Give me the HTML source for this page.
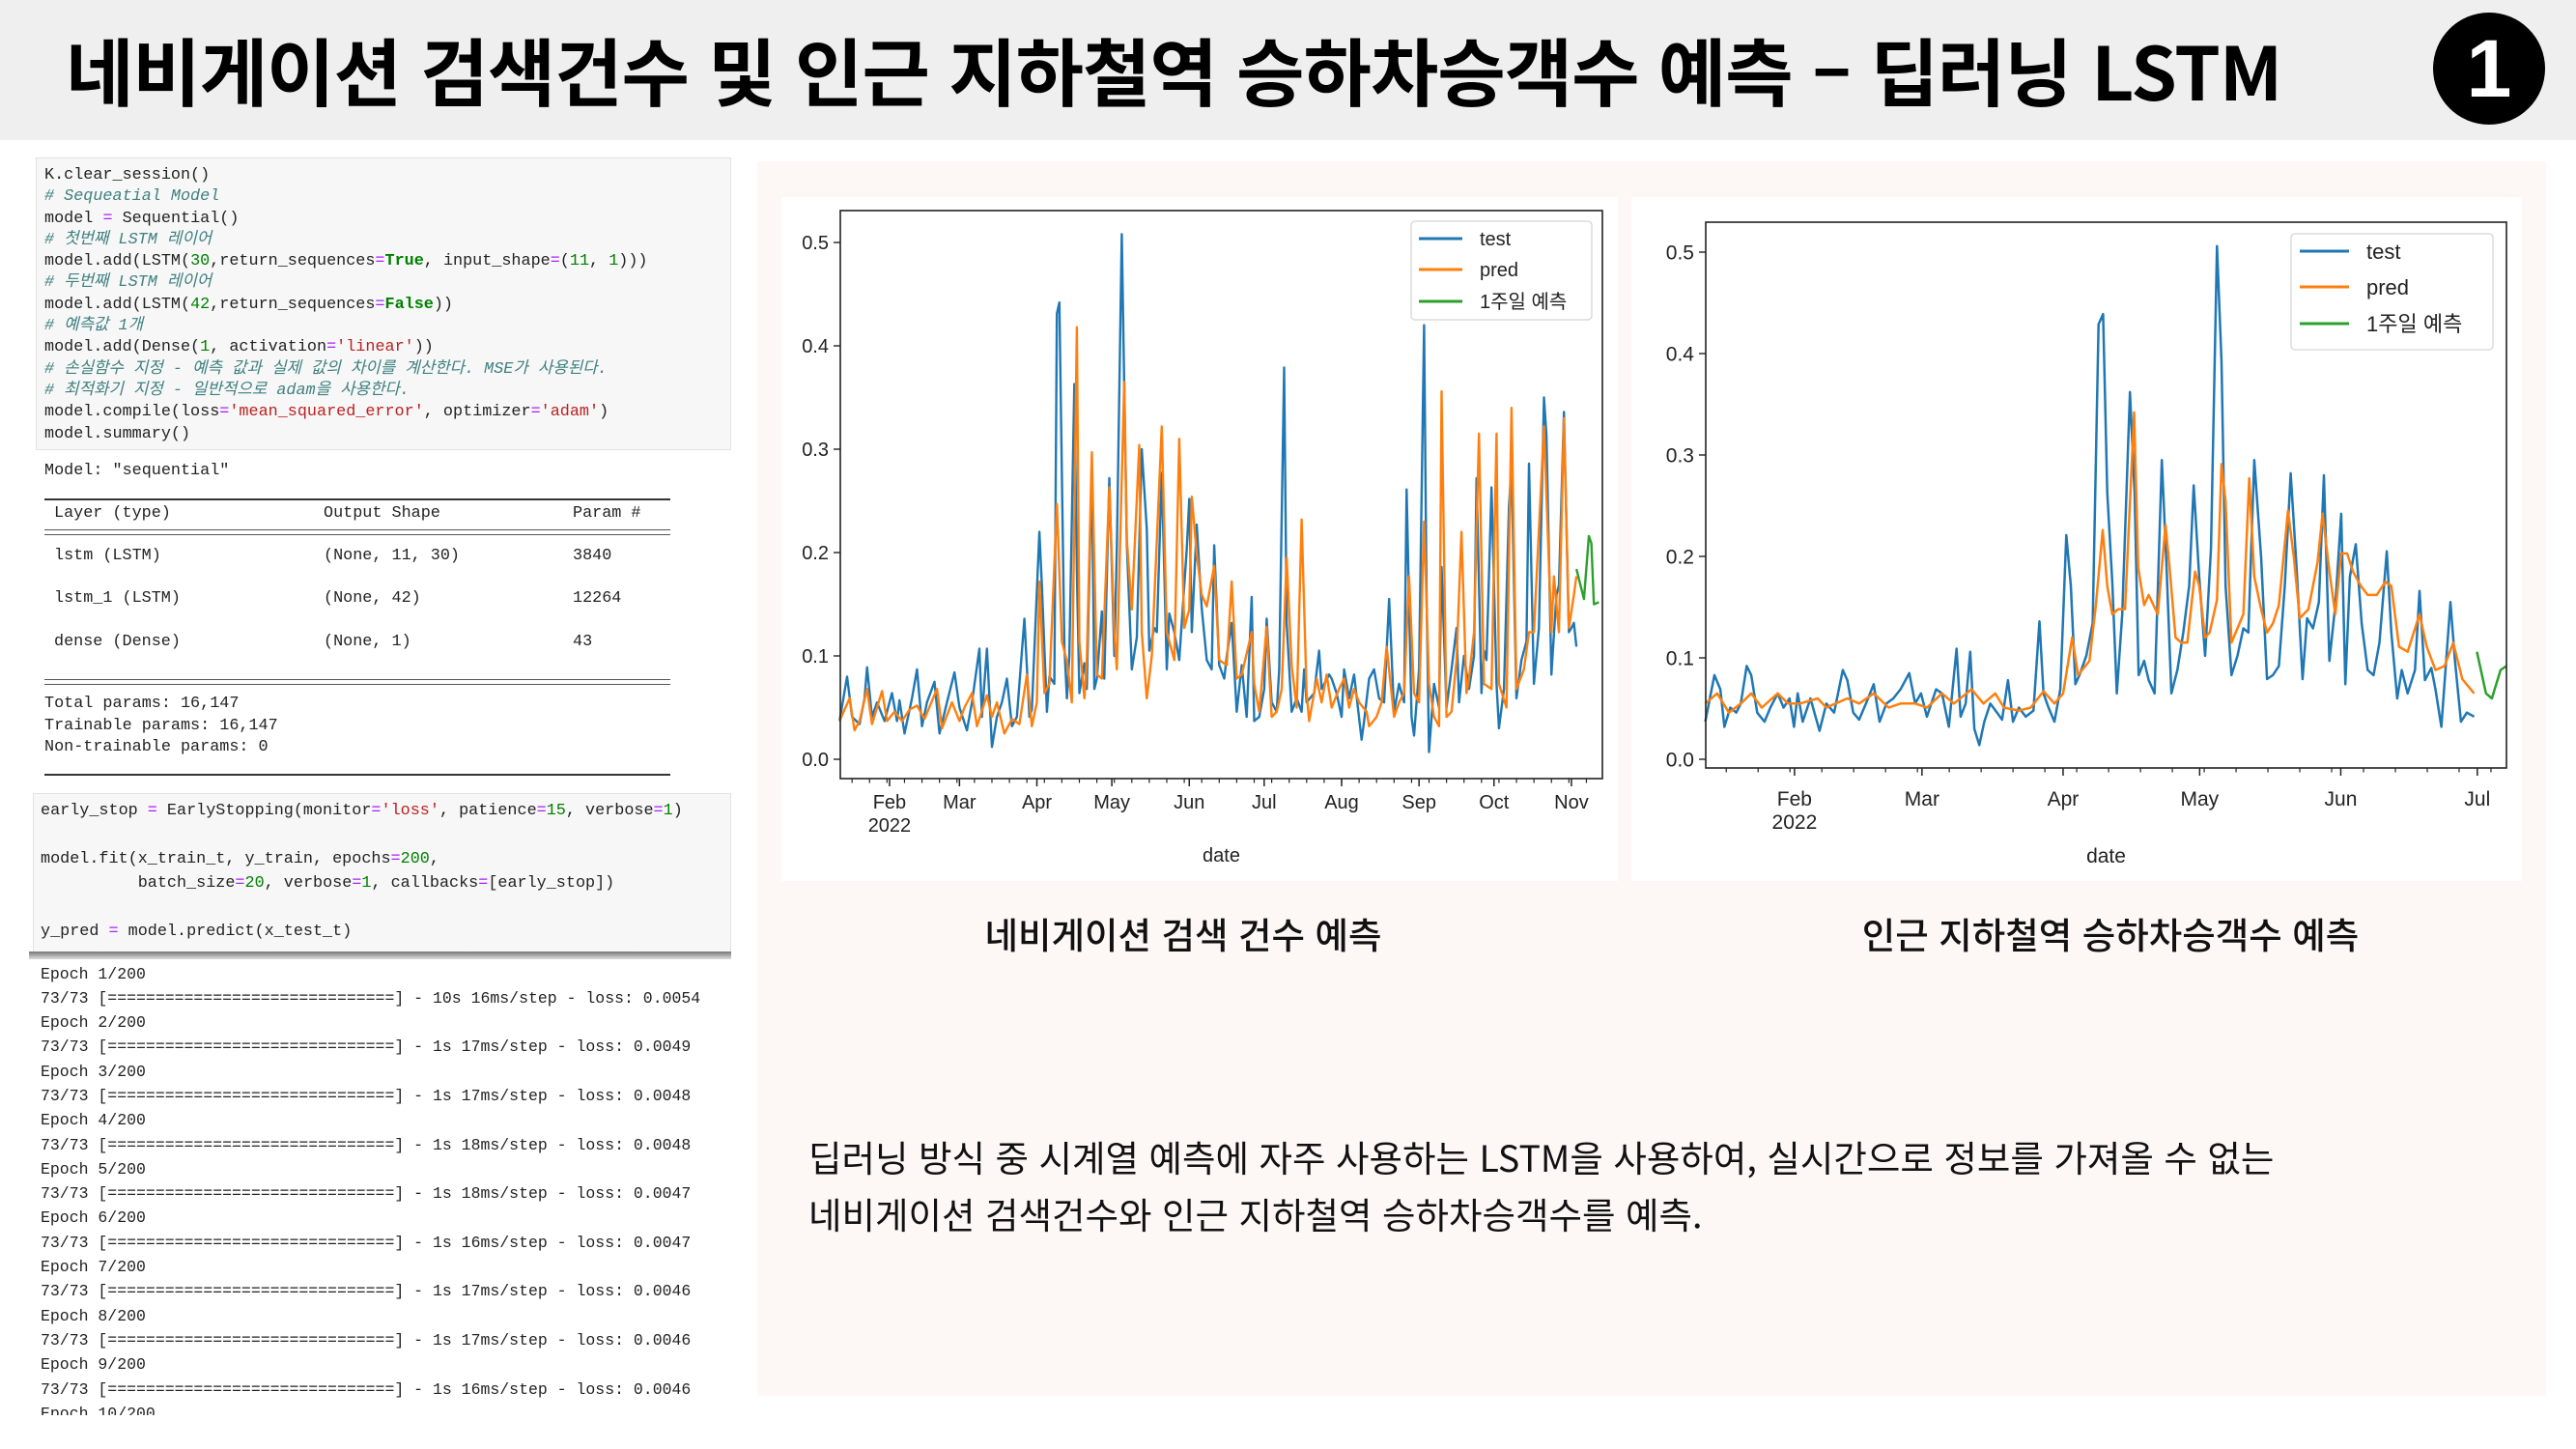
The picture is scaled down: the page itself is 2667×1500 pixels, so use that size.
<!DOCTYPE html>
<html lang="ko">
<head>
<meta charset="utf-8">
<style>
  html,body{margin:0;padding:0;}
  body{width:2667px;height:1500px;position:relative;overflow:hidden;background:#fff;font-family:"Liberation Sans","Noto Sans CJK KR",sans-serif;}
  .abs{position:absolute;}
  .mono{font-family:"Liberation Mono","Noto Sans CJK KR",monospace;color:#222;white-space:pre;}
  .c{color:#408080;font-style:italic;}
  .o{color:#aa22ff;}
  .n{color:#008000;}
  .k{color:#008000;font-weight:bold;}
  .s{color:#ba2121;}
</style>
</head>
<body>
<div class="abs" style="left:0;top:0;width:2667px;height:145px;background:#efefef;"></div>
<div class="abs" style="left:68px;top:20px;height:104px;line-height:104px;font-family:'Noto Sans CJK KR',sans-serif;font-weight:700;font-size:76.5px;color:#000;white-space:nowrap;letter-spacing:-1px;">네비게이션 검색건수 및 인근 지하철역 승하차승객수 예측 – 딥러닝 LSTM</div>
<div class="abs" style="left:2519px;top:13px;width:116px;height:116px;border-radius:50%;background:#000;color:#fff;font-family:'Liberation Sans',sans-serif;font-weight:700;font-size:84px;line-height:116px;text-align:center;">1</div>

<!-- Code cell 1 -->
<div class="abs" style="left:37px;top:163px;width:720px;height:303px;background:#f7f7f7;border:1px solid #e2e2e2;box-sizing:border-box;"></div>
<div class="abs mono" style="left:46px;top:171px;font-size:16.8px;line-height:22.3px;">K.clear_session()
<span class="c"># Sequeatial Model</span>
model <span class="o">=</span> Sequential()
<span class="c"># 첫번째 LSTM 레이어</span>
model.add(LSTM(<span class="n">30</span>,return_sequences<span class="o">=</span><span class="k">True</span>, input_shape<span class="o">=</span>(<span class="n">11</span>, <span class="n">1</span>)))
<span class="c"># 두번째 LSTM 레이어</span>
model.add(LSTM(<span class="n">42</span>,return_sequences<span class="o">=</span><span class="k">False</span>))
<span class="c"># 예측값 1개</span>
model.add(Dense(<span class="n">1</span>, activation<span class="o">=</span><span class="s">'linear'</span>))
<span class="c"># 손실함수 지정 - 예측 값과 실제 값의 차이를 계산한다. MSE가 사용된다.</span>
<span class="c"># 최적화기 지정 - 일반적으로 adam을 사용한다.</span>
model.compile(loss<span class="o">=</span><span class="s">'mean_squared_error'</span>, optimizer<span class="o">=</span><span class="s">'adam'</span>)
model.summary()</div>

<!-- Summary output -->
<div class="abs mono" style="left:46px;top:477px;font-size:16.8px;line-height:22px;">Model: "sequential"</div>
<div class="abs" style="left:46px;top:516px;width:648px;height:2px;background:#333;"></div>
<div class="abs mono" style="left:56px;top:521px;font-size:16.8px;line-height:22px;">Layer (type)</div>
<div class="abs mono" style="left:335px;top:521px;font-size:16.8px;line-height:22px;">Output Shape</div>
<div class="abs mono" style="left:593px;top:521px;font-size:16.8px;line-height:22px;">Param #</div>
<div class="abs" style="left:46px;top:548px;width:648px;height:6px;border-top:1.5px solid #555;border-bottom:1.5px solid #555;box-sizing:border-box;"></div>
<div class="abs mono" style="left:56px;top:565px;font-size:16.8px;line-height:22px;">lstm (LSTM)</div>
<div class="abs mono" style="left:335px;top:565px;font-size:16.8px;line-height:22px;">(None, 11, 30)</div>
<div class="abs mono" style="left:593px;top:565px;font-size:16.8px;line-height:22px;">3840</div>
<div class="abs mono" style="left:56px;top:609px;font-size:16.8px;line-height:22px;">lstm_1 (LSTM)</div>
<div class="abs mono" style="left:335px;top:609px;font-size:16.8px;line-height:22px;">(None, 42)</div>
<div class="abs mono" style="left:593px;top:609px;font-size:16.8px;line-height:22px;">12264</div>
<div class="abs mono" style="left:56px;top:654px;font-size:16.8px;line-height:22px;">dense (Dense)</div>
<div class="abs mono" style="left:335px;top:654px;font-size:16.8px;line-height:22px;">(None, 1)</div>
<div class="abs mono" style="left:593px;top:654px;font-size:16.8px;line-height:22px;">43</div>
<div class="abs" style="left:46px;top:703px;width:648px;height:6px;border-top:1.5px solid #555;border-bottom:1.5px solid #555;box-sizing:border-box;"></div>
<div class="abs mono" style="left:46px;top:718px;font-size:16.8px;line-height:22.5px;">Total params: 16,147
Trainable params: 16,147
Non-trainable params: 0</div>
<div class="abs" style="left:46px;top:801px;width:648px;height:2px;background:#333;"></div>

<!-- Code cell 2 -->
<div class="abs" style="left:34px;top:821px;width:723px;height:166px;background:#f7f7f7;border:1px solid #e2e2e2;box-sizing:border-box;"></div>
<div class="abs" style="left:30px;top:985px;width:727px;height:8px;background:linear-gradient(#777,#ddd);"></div>
<div class="abs mono" style="left:42px;top:827px;font-size:16.8px;line-height:25px;">early_stop <span class="o">=</span> EarlyStopping(monitor<span class="o">=</span><span class="s">'loss'</span>, patience<span class="o">=</span><span class="n">15</span>, verbose<span class="o">=</span><span class="n">1</span>)

model.fit(x_train_t, y_train, epochs<span class="o">=</span><span class="n">200</span>,
          batch_size<span class="o">=</span><span class="n">20</span>, verbose<span class="o">=</span><span class="n">1</span>, callbacks<span class="o">=</span>[early_stop])

y_pred <span class="o">=</span> model.predict(x_test_t)</div>

<div class="abs" style="left:0;top:994px;width:780px;height:471px;overflow:hidden;">
<div class="abs mono" style="left:42px;top:1.5px;font-size:16.5px;line-height:25.3px;">Epoch 1/200
73/73 [==============================] - 10s 16ms/step - loss: 0.0054
Epoch 2/200
73/73 [==============================] - 1s 17ms/step - loss: 0.0049
Epoch 3/200
73/73 [==============================] - 1s 17ms/step - loss: 0.0048
Epoch 4/200
73/73 [==============================] - 1s 18ms/step - loss: 0.0048
Epoch 5/200
73/73 [==============================] - 1s 18ms/step - loss: 0.0047
Epoch 6/200
73/73 [==============================] - 1s 16ms/step - loss: 0.0047
Epoch 7/200
73/73 [==============================] - 1s 17ms/step - loss: 0.0046
Epoch 8/200
73/73 [==============================] - 1s 17ms/step - loss: 0.0046
Epoch 9/200
73/73 [==============================] - 1s 16ms/step - loss: 0.0046
Epoch 10/200</div>
</div>

<!-- Right panel -->
<div class="abs" style="left:784px;top:167px;width:1852px;height:1278px;background:#fdf8f5;"></div>
<div class="abs" style="left:809px;top:204px;width:866px;height:708px;background:#fff;"></div>
<div class="abs" style="left:1689px;top:204px;width:922px;height:708px;background:#fff;"></div>
<svg id="charts" class="abs" style="left:0;top:0;" width="2667" height="1500" viewBox="0 0 2667 1500"></svg>

<div class="abs" style="left:975px;top:942px;width:500px;text-align:center;font-family:'Noto Sans CJK KR',sans-serif;font-weight:500;font-size:37.5px;line-height:48px;color:#111;white-space:nowrap;">네비게이션 검색 건수 예측</div>
<div class="abs" style="left:1885px;top:942px;width:600px;text-align:center;font-family:'Noto Sans CJK KR',sans-serif;font-weight:500;font-size:37.5px;line-height:48px;color:#111;white-space:nowrap;">인근 지하철역 승하차승객수 예측</div>
<div class="abs" style="left:837px;top:1167px;font-family:'Noto Sans CJK KR',sans-serif;font-size:37.5px;line-height:59px;color:#111;white-space:nowrap;">딥러닝 방식 중 시계열 예측에 자주 사용하는 LSTM을 사용하여, 실시간으로 정보를 가져올 수 없는<br>네비게이션 검색건수와 인근 지하철역 승하차승객수를 예측.</div>

<script>
// ---- Chart 1: navigation search counts (x = day offset from 2022-01-01) ----
const c1TestDays = [11,14,16,19,21,22,24,26,29,31,32,34,35,37,40,42,44,46,49,51,54,57,59,62,64,67,68,70,72,74,76,78,80,82,85,87,88,91,92,94,95,97,98,99,101,102,103,105,106,107,109,110,112,113,114,116,117,119,121,122,124,126,128,130,132,134,135,137,138,140,142,143,145,147,150,151,152,154,156,158,160,161,163,165,166,168,170,172,174,176,177,179,181,182,184,186,187,189,190,192,194,196,197,198,201,203,204,207,208,210,212,213,215,217,220,221,223,225,227,229,231,233,235,237,238,240,241,243,245,246,247,249,251,252,254,256,258,259,261,263,265,266,268,269,270,272,274,275,277,279,280,282,284,286,287,289,291,293,294,296,298,299,301,303,304,305,306];
const c1Test = [.037,.080,.041,.034,.059,.089,.041,.055,.037,.055,.064,.037,.057,.025,.059,.087,.032,.055,.075,.025,.055,.084,.050,.028,.055,.107,.041,.107,.012,.041,.055,.078,.032,.041,.136,.041,.048,.220,.168,.046,.080,.073,.431,.442,.109,.059,.100,.363,.182,.064,.093,.068,.286,.068,.078,.143,.078,.272,.100,.204,.508,.209,.087,.118,.300,.223,.105,.127,.123,.277,.087,.141,.123,.096,.204,.252,.123,.227,.146,.096,.087,.207,.091,.078,.100,.132,.046,.091,.041,.157,.037,.041,.068,.136,.055,.046,.087,.379,.132,.046,.059,.046,.087,.055,.064,.105,.068,.082,.078,.064,.041,.087,.059,.082,.019,.037,.078,.087,.059,.055,.155,.046,.073,.055,.261,.041,.023,.087,.420,.164,.007,.073,.050,.186,.050,.087,.127,.055,.100,.068,.100,.272,.064,.105,.096,.263,.073,.030,.068,.245,.282,.059,.096,.114,.286,.073,.127,.350,.313,.082,.159,.168,.336,.123,.127,.132,.109];
const c1PredDays = [11,15,17,19,22,24,28,30,33,36,39,42,45,50,52,56,59,61,64,66,70,72,74,77,80,83,86,88,90,91,93,95,98,100,102,104,106,107,109,110,112,114,116,119,121,122,125,126,128,131,132,134,136,140,142,145,147,149,151,152,154,156,158,161,163,166,168,170,172,176,177,179,182,184,186,188,190,192,194,196,198,199,202,204,206,208,211,213,215,217,219,222,223,226,228,230,233,235,237,239,241,243,245,247,249,251,252,254,256,258,260,262,263,265,267,269,272,274,275,278,280,282,285,287,289,293,296,297,299,301,303,305,306];
const c1Pred = [.037,.059,.028,.037,.068,.034,.066,.037,.046,.037,.048,.052,.039,.068,.030,.055,.037,.050,.064,.032,.062,.041,.055,.025,.039,.034,.082,.032,.055,.172,.064,.073,.247,.114,.095,.055,.418,.114,.059,.096,.297,.082,.078,.263,.123,.087,.365,.213,.145,.304,.123,.059,.100,.322,.123,.096,.310,.127,.145,.254,.199,.159,.148,.187,.096,.091,.172,.078,.082,.123,.073,.046,.128,.041,.046,.068,.195,.091,.050,.232,.064,.037,.078,.055,.082,.050,.068,.078,.050,.068,.055,.046,.032,.041,.055,.109,.041,.055,.064,.177,.064,.055,.230,.073,.041,.032,.356,.041,.046,.096,.220,.064,.078,.123,.315,.073,.068,.315,.073,.050,.340,.068,.087,.123,.123,.322,.123,.177,.123,.330,.127,.159,.177];
const c1FcDays = [306,309,311,312,313,315];
const c1Fc = [.184,.155,.216,.209,.150,.152];

// ---- Chart 2: subway boarding counts ----
const c2TestDays = [11.4,13.4,14.7,15.6,16.9,18.2,19.2,20.5,21.5,22.8,24.4,25.7,27.3,28.6,29.9,30.9,31.7,32.8,34.5,36.5,38.0,39.7,41.6,42.6,43.9,45.2,46.7,48.4,49.7,51.2,52.7,54.3,56.2,57.5,58.8,60.1,62.1,63.4,64.9,66.6,67.5,68.6,69.6,70.5,71.6,72.7,74.0,75.5,76.6,77.9,79.0,80.3,81.8,83.5,84.8,85.7,86.8,88.1,89.4,90.7,91.7,92.7,93.6,95.1,96.5,97.8,98.8,99.7,100.8,101.8,103.0,104.7,105.7,106.6,107.8,108.8,110.1,111.7,112.7,113.8,115.1,116.4,117.7,118.7,119.9,121.2,122.5,123.8,124.8,125.7,127.0,128.3,129.6,130.7,132.0,133.5,134.8,136.1,137.4,138.7,140.0,141.3,142.6,143.6,144.9,146.2,147.3,148.5,149.8,151.1,152.0,153.0,154.3,155.6,156.9,158.2,159.5,161.1,162.1,163.4,164.4,165.7,167.3,168.3,169.5,170.9,171.8,173.1,175.1,176.1,177.4,178.7,180.3];
const c2Test = [.037,.083,.069,.032,.051,.046,.055,.092,.083,.046,.037,.051,.065,.051,.060,.032,.065,.037,.060,.028,.055,.046,.088,.078,.046,.039,.055,.074,.037,.055,.060,.069,.085,.055,.065,.042,.069,.065,.032,.109,.042,.055,.106,.030,.014,.037,.055,.046,.039,.078,.037,.051,.042,.048,.136,.065,.051,.037,.069,.221,.171,.074,.083,.102,.134,.429,.439,.263,.175,.065,.143,.362,.263,.083,.097,.078,.065,.295,.194,.065,.088,.125,.171,.270,.180,.102,.208,.506,.392,.171,.083,.102,.129,.125,.295,.199,.079,.083,.092,.171,.282,.189,.079,.139,.129,.155,.280,.097,.152,.242,.074,.180,.212,.134,.088,.083,.115,.205,.125,.060,.088,.065,.088,.166,.078,.090,.069,.032,.155,.097,.037,.046,.042];
const c2PredDays = [11.4,14.0,16.6,19.2,21.5,23.8,27.3,29.6,32.2,36.1,38.0,40.0,42.6,45.2,48.4,51.7,54.3,57.5,60.1,63.4,66.0,69.9,72.5,75.1,77.0,80.3,82.9,85.7,88.1,90.0,92.0,93.3,95.8,97.2,98.7,99.7,100.8,102.1,103.6,105.6,106.5,107.8,108.8,110.8,112.5,113.4,114.7,116.0,117.3,119.0,119.9,121.2,122.2,123.8,124.8,125.7,127.0,128.3,129.6,130.9,132.0,133.5,134.8,136.1,137.4,139.4,140.7,142.0,143.9,145.9,147.0,148.5,149.8,151.1,152.4,153.7,155.4,156.9,158.9,160.8,162.1,163.8,165.7,168.3,169.9,171.8,173.8,175.7,177.7,180.3];
const c2Pred = [.055,.065,.046,.055,.065,.051,.065,.055,.055,.060,.051,.055,.060,.055,.065,.051,.055,.055,.051,.065,.055,.069,.055,.065,.051,.048,.051,.067,.055,.065,.120,.083,.097,.152,.226,.171,.143,.148,.148,.342,.189,.152,.162,.143,.231,.189,.120,.115,.115,.185,.171,.120,.125,.157,.291,.254,.115,.129,.143,.277,.180,.148,.125,.134,.152,.245,.199,.139,.148,.194,.242,.185,.143,.203,.203,.185,.171,.162,.162,.175,.171,.111,.106,.143,.111,.088,.092,.115,.079,.065];
const c2FcDays = [180.9,182.9,184.2,186.1,187.4];
const c2Fc = [.106,.065,.060,.088,.092];

// ---- shared axis labels ----
const monthLabels = ['Feb','Mar','Apr','May','Jun','Jul','Aug','Sep','Oct','Nov'];
const monthDays = [31,59,90,120,151,181,212,243,273,304];
const yTicks = [0.0,0.1,0.2,0.3,0.4,0.5];
const yTickLabels = ['0.0','0.1','0.2','0.3','0.4','0.5'];
const legendLabels = ['test','pred','1주일 예측'];
const colors = ['#1f77b4','#ff7f0e','#2ca02c'];

const NS = 'http://www.w3.org/2000/svg';
const root = document.getElementById('charts');
function el(tag, attrs, parent){
  const e = document.createElementNS(NS, tag);
  for (const k in attrs) e.setAttribute(k, attrs[k]);
  (parent||root).appendChild(e);
  return e;
}

function drawChart(cfg){
  const g = el('g', {});
  
  
  const L=cfg.left,R=cfg.right,T=cfg.top,B=cfg.bottom;
  const xs = d => L + (d - cfg.x0) / (cfg.x1 - cfg.x0) * (R - L);
  const ys = v => cfg.zeroY - v * cfg.pxPerUnit;
  const fs = cfg.font;
  const series = [[cfg.testDays,cfg.test,'test-line'],[cfg.predDays,cfg.pred,'pred-line'],[cfg.fcDays,cfg.fc,'forecast-line']];
  series.forEach((s,i)=>{
    const n = Math.min(s[0].length, s[1].length);
    let d='';
    for(let j=0;j<n;j++){ d += (j?'L':'M') + xs(s[0][j]).toFixed(1) + ' ' + ys(s[1][j]).toFixed(1); }
    const p = el('path',{d:d,fill:'none',stroke:colors[i],'stroke-width':cfg.lw,'stroke-linejoin':'round'},g);
    
    
  });
  const fr = el('rect',{x:L,y:T,width:R-L,height:B-T,fill:'none',stroke:'#222','stroke-width':1.6},g);
  
  
  yTicks.forEach((v,i)=>{
    const y = ys(v);
    el('line',{x1:L-7,x2:L,y1:y,y2:y,stroke:'#222','stroke-width':1.4},g);
    const t = el('text',{x:L-12,y:y+fs*0.36,'text-anchor':'end','font-size':fs,fill:'#222','font-family':'Liberation Sans, sans-serif'},g);
    t.textContent = yTickLabels[i];
    
    
  });
  for(let d=2; d<=cfg.x1; d+=7){
    if(d<cfg.x0) continue;
    const x=xs(d);
    el('line',{x1:x,x2:x,y1:B,y2:B+4.5,stroke:'#222','stroke-width':1.2},g);
  }
  monthDays.forEach((d,i)=>{
    if(d<cfg.x0||d>cfg.x1) return;
    const x=xs(d);
    el('line',{x1:x,x2:x,y1:B,y2:B+8,stroke:'#222','stroke-width':1.5},g);
    const t = el('text',{x:x,y:cfg.monthY,'text-anchor':'middle','font-size':fs,fill:'#222','font-family':'Liberation Sans, sans-serif'},g);
    t.textContent = monthLabels[i];
    
    
    if(i===0){
      const t2 = el('text',{x:x,y:cfg.monthY+24,'text-anchor':'middle','font-size':fs,fill:'#222','font-family':'Liberation Sans, sans-serif'},g);
      t2.textContent = '2022';
      
      
    }
  });
  const xt = el('text',{x:(L+R)/2,y:cfg.dateY,'text-anchor':'middle','font-size':fs,fill:'#222','font-family':'Liberation Sans, sans-serif'},g);
  xt.textContent='date';
  
  
  const lg = cfg.legend;
  const lb = el('rect',{x:lg.x,y:lg.y,width:lg.w,height:lg.h,rx:4,fill:'#fff','fill-opacity':0.85,stroke:'#d5d5d5','stroke-width':1.3},g);
  
  
  legendLabels.forEach((lab,i)=>{
    const y = lg.rows[i];
    el('line',{x1:lg.lx1,x2:lg.lx2,y1:y,y2:y,stroke:colors[i],'stroke-width':cfg.lw+0.5},g);
    const t = el('text',{x:lg.tx,y:y+lg.fs*0.36,'font-size':lg.fs,fill:'#222','font-family':'Liberation Sans, Noto Sans CJK KR, sans-serif'},g);
    t.textContent = lab;
    
    
  });
}

drawChart({name:'chart-navigation-forecast',left:870,right:1659,top:218,bottom:806,x0:11.3,x1:316.4,zeroY:786,pxPerUnit:1070,
  testDays:c1TestDays,test:c1Test,predDays:c1PredDays,pred:c1Pred,fcDays:c1FcDays,fc:c1Fc,
  lw:2.4,font:20,monthY:837,dateY:892,
  legend:{x:1461,y:229,w:187,h:102,rows:[247,279,312],lx1:1469,lx2:1514,tx:1532,fs:20}});
drawChart({name:'chart-subway-forecast',left:1766,right:2595,top:230,bottom:795,x0:11.5,x1:187.4,zeroY:786,pxPerUnit:1050,
  testDays:c2TestDays,test:c2Test,predDays:c2PredDays,pred:c2Pred,fcDays:c2FcDays,fc:c2Fc,
  lw:2.5,font:21,monthY:834,dateY:893,
  legend:{x:2372,y:242,w:209,h:120,rows:[260,297,335],lx1:2381,lx2:2432,tx:2450,fs:22}});
</script>
</body>
</html>
